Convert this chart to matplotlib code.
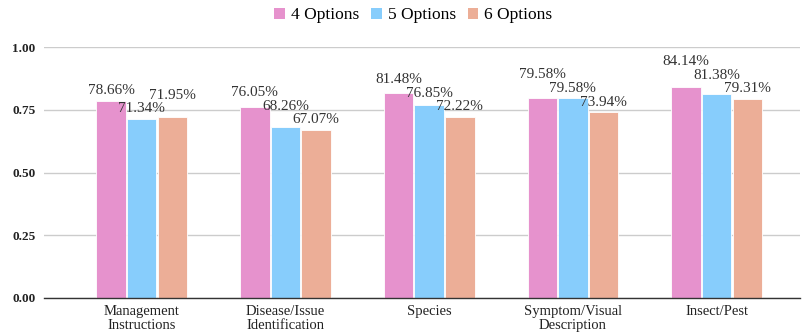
import numpy as np
import matplotlib.pyplot as plt
from matplotlib.patches import Patch

categories = ["Management\nInstructions", "Disease/Issue\nIdentification", "Species",
              "Symptom/Visual\nDescription", "Insect/Pest"]
series_names = ["4 Options", "5 Options", "6 Options"]
opt4 = [0.7866, 0.7605, 0.8148, 0.7958, 0.8414]
opt5 = [0.7134, 0.6826, 0.7685, 0.7958, 0.8138]
opt6 = [0.7195, 0.6707, 0.7222, 0.7394, 0.7931]
yticks = [0.0, 0.25, 0.5, 0.75, 1.0]

colors = ["#e692cd", "#87cdfc", "#ecae97"]
serif = ["Liberation Serif", "DejaVu Serif"]
plt.rcParams["font.family"] = serif

DPI = 100
fig = plt.figure(figsize=(8.06, 3.33), dpi=DPI)
ax = fig.add_axes([44 / 806, 35 / 333, 756 / 806, 251 / 333])

x = np.arange(len(categories))
width = 0.205
gap = 0.008
labels = []
for i, (vals, col) in enumerate(zip([opt4, opt5, opt6], colors)):
    pos = x + (i - 1) * (width + gap)
    ax.bar(pos, vals, width, color=col, edgecolor="white", linewidth=0.6, zorder=3)
    for p, v in zip(pos, vals):
        t = ax.annotate(f"{v * 100:.2f}%", xy=(p, v), xytext=(0, 2.5),
                        textcoords="offset points", ha="center", va="bottom",
                        fontsize=11, color="#333333", zorder=4, annotation_clip=False)
        labels.append((v, -i, t))

ax.set_xlim(-0.68, 4.58)
ax.set_ylim(0, 1.0)
ax.set_yticks(yticks)
ax.set_yticklabels([f"{t:.2f}" for t in yticks], fontweight="bold", fontsize=9.5,
                   color="#222222")
ax.set_xticks(x)
ax.set_xticklabels(categories, fontsize=10.5, color="#222222", linespacing=1.1)
ax.tick_params(axis="both", length=0)
ax.tick_params(axis="y", pad=6)
ax.tick_params(axis="x", pad=5)
for s in ["top", "right", "left"]:
    ax.spines[s].set_visible(False)
ax.spines["bottom"].set_color("#333333")
ax.spines["bottom"].set_linewidth(1.0)
ax.spines["bottom"].set_zorder(5)
ax.grid(axis="y", color="#cccccc", linewidth=1.0, zorder=0)

# push overlapping value labels upward, lowest bars first (later series first on ties)
fig.canvas.draw()
renderer = fig.canvas.get_renderer()
placed = []
for v, _, t in sorted(labels, key=lambda item: (item[0], item[1])):
    shift = 0.0
    for _ in range(20):
        bb = t.get_window_extent(renderer)
        hit = None
        for pb in placed:
            if bb.x1 > pb.x0 and bb.x0 < pb.x1 and bb.y1 > pb.y0 and bb.y0 < pb.y1:
                hit = pb
                break
        if hit is None:
            break
        shift += (hit.y1 - bb.y0 + 0.5)
        t.set_position((0, 2.5 + shift * 72 / DPI))
    placed.append(t.get_window_extent(renderer))

handles = [Patch(facecolor=c, edgecolor="none") for c in colors]
fig.legend(handles, series_names, loc="upper center", bbox_to_anchor=(0.513, 1.025),
           ncol=3, frameon=False, fontsize=12.5, handlelength=0.6, handleheight=0.6,
           handletextpad=0.35, columnspacing=0.7)

fig.savefig("out.png", dpi=DPI)
